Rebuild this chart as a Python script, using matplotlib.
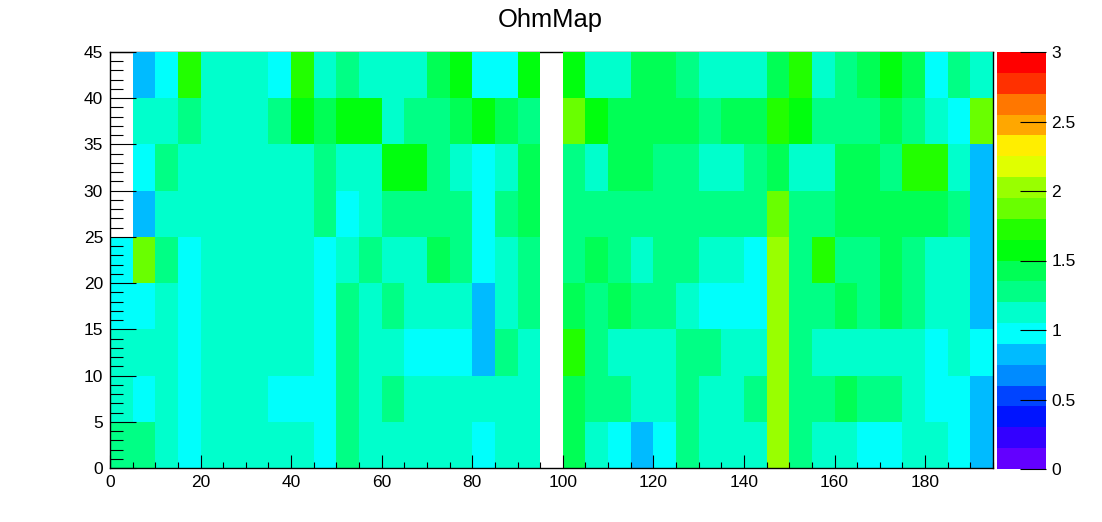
import colorsys
import numpy as np
import matplotlib
matplotlib.use("Agg")
import matplotlib.pyplot as plt
from matplotlib.colors import ListedColormap, BoundaryNorm
from matplotlib.ticker import MultipleLocator, FormatStrFormatter

plt.rcParams['font.family'] = ['Liberation Sans', 'DejaVu Sans']

# bins
x_edges = np.arange(0, 196, 5)   # 39 bins
y_edges = np.arange(0, 46, 5)    # 9 bins
z_min, z_max, n_levels = 0.0, 3.0, 20
title = "OhmMap"

N = np.nan
# one list per y bin, top row (40-45) first, empty bins = N
ohm_rows = [
    [N, .82, .98, 1.72, 1.12, 1.12, 1.12, .98, 1.72, 1.12, 1.28, 1.12, 1.12, 1.12, 1.42, 1.58, .98, .98, 1.58, N,
     1.58, 1.12, 1.12, 1.42, 1.42, 1.28, 1.12, 1.12, 1.12, 1.42, 1.72, 1.12, 1.28, 1.42, 1.58, 1.42, .98, 1.28, 1.12],
    [N, 1.12, 1.12, 1.28, 1.12, 1.12, 1.12, 1.28, 1.58, 1.42, 1.58, 1.58, 1.12, 1.28, 1.28, 1.42, 1.58, 1.42, 1.28, N,
     1.88, 1.58, 1.42, 1.42, 1.42, 1.42, 1.28, 1.42, 1.42, 1.72, 1.58, 1.28, 1.28, 1.28, 1.42, 1.28, 1.12, .98, 1.88],
    [N, .98, 1.28, 1.12, 1.12, 1.12, 1.12, 1.12, 1.12, 1.28, 1.12, 1.12, 1.58, 1.58, 1.28, 1.12, .98, 1.12, 1.42, N,
     1.28, 1.12, 1.42, 1.42, 1.28, 1.28, 1.12, 1.12, 1.28, 1.42, 1.12, 1.12, 1.42, 1.42, 1.28, 1.72, 1.72, 1.12, .82],
    [N, .82, 1.12, 1.12, 1.12, 1.12, 1.12, 1.12, 1.12, 1.28, .98, 1.12, 1.28, 1.28, 1.28, 1.28, .98, 1.28, 1.42, N,
     1.28, 1.28, 1.28, 1.28, 1.28, 1.28, 1.28, 1.28, 1.28, 1.88, 1.28, 1.28, 1.42, 1.42, 1.42, 1.42, 1.42, 1.28, .82],
    [.98, 1.88, 1.28, .98, 1.12, 1.12, 1.12, 1.12, 1.12, .98, 1.12, 1.28, 1.12, 1.12, 1.42, 1.28, .98, 1.12, 1.28, N,
     1.28, 1.42, 1.28, 1.12, 1.28, 1.28, 1.12, 1.12, .98, 2.02, 1.28, 1.72, 1.28, 1.28, 1.42, 1.28, 1.12, 1.12, .82],
    [.98, .98, 1.12, .98, 1.12, 1.12, 1.12, 1.12, 1.12, .98, 1.28, 1.12, 1.28, 1.12, 1.12, 1.12, .82, 1.12, 1.28, N,
     1.42, 1.28, 1.42, 1.28, 1.28, 1.12, .98, .98, .98, 2.02, 1.28, 1.28, 1.42, 1.28, 1.42, 1.28, 1.12, 1.12, .82],
    [1.12, 1.12, 1.12, .98, 1.12, 1.12, 1.12, 1.12, 1.12, .98, 1.28, 1.12, 1.12, .98, .98, .98, .82, 1.28, 1.12, N,
     1.72, 1.28, 1.12, 1.12, 1.12, 1.28, 1.28, 1.12, 1.12, 2.02, 1.28, 1.12, 1.12, 1.12, 1.12, 1.12, .98, 1.12, .98],
    [1.12, .98, 1.12, .98, 1.12, 1.12, 1.12, .98, .98, .98, 1.28, 1.12, 1.28, 1.12, 1.12, 1.12, 1.12, 1.12, 1.12, N,
     1.42, 1.28, 1.28, 1.12, 1.12, 1.28, 1.12, 1.12, 1.28, 2.02, 1.28, 1.28, 1.42, 1.28, 1.28, 1.12, .98, .98, .82],
    [1.28, 1.28, 1.12, .98, 1.12, 1.12, 1.12, 1.12, 1.12, .98, 1.28, 1.12, 1.12, 1.12, 1.12, 1.12, .98, 1.12, 1.12, N,
     1.42, 1.12, .98, .82, .98, 1.28, 1.12, 1.12, 1.12, 2.02, 1.28, 1.12, 1.12, .98, .98, 1.12, 1.12, .98, .82],
]

# ROOT "pretty" palette (HLS hue scan, 50 colours) picked for 20 contours
palette = []
for k in range(n_levels):
    i = int((k + 0.99) * 50 / n_levels)
    hue = 280 - (i + 1) * 5.6
    palette.append(colorsys.hls_to_rgb(hue / 360.0, 0.5, 1.0))
cmap = ListedColormap(palette)
levels = np.linspace(z_min, z_max, n_levels + 1)
norm = BoundaryNorm(levels, cmap.N)

z = np.ma.masked_invalid(np.flipud(np.array(ohm_rows, dtype=float)))

W, H = 1102, 522
fig = plt.figure(figsize=(W / 100, H / 100), dpi=100)
ax = fig.add_axes([110 / W, 54 / H, 883 / W, 416 / H])
cax = fig.add_axes([997 / W, 53 / H, 49 / W, 417 / H])

mesh = ax.pcolormesh(x_edges, y_edges, z, cmap=cmap, norm=norm, zorder=1)
ax.set_xlim(x_edges[0], x_edges[-1])
ax.set_ylim(y_edges[0], y_edges[-1])

for s in ax.spines.values():
    s.set_linewidth(1.0)
ax.spines['top'].set_zorder(0.5)   # hidden under the cells like in the original

ax.xaxis.set_major_locator(MultipleLocator(20))
ax.xaxis.set_minor_locator(MultipleLocator(5))
ax.yaxis.set_major_locator(MultipleLocator(5))
ax.yaxis.set_minor_locator(MultipleLocator(1))
ax.tick_params(axis='x', which='major', direction='in', length=9.4, width=0.8, labelsize=12.5, pad=5)
ax.tick_params(axis='x', which='minor', direction='in', length=4.5, width=0.8)
ax.tick_params(axis='y', which='major', direction='in', length=18.7, width=0.8, labelsize=12.5, pad=5)
ax.tick_params(axis='y', which='minor', direction='in', length=9.4, width=0.8)

cb = fig.colorbar(mesh, cax=cax, ticks=np.arange(0, 3.01, 0.5))
cb.outline.set_visible(False)
cb.minorticks_off()
cax.yaxis.set_major_formatter(FormatStrFormatter('%g'))
cax.tick_params(direction='in', length=18.7, width=0.8, labelsize=12.5, pad=4)

fig.text(550 / W, 1 - 26.7 / H, title, ha='center', va='baseline', fontsize=18.4)

fig.savefig("out.png", dpi=100)
